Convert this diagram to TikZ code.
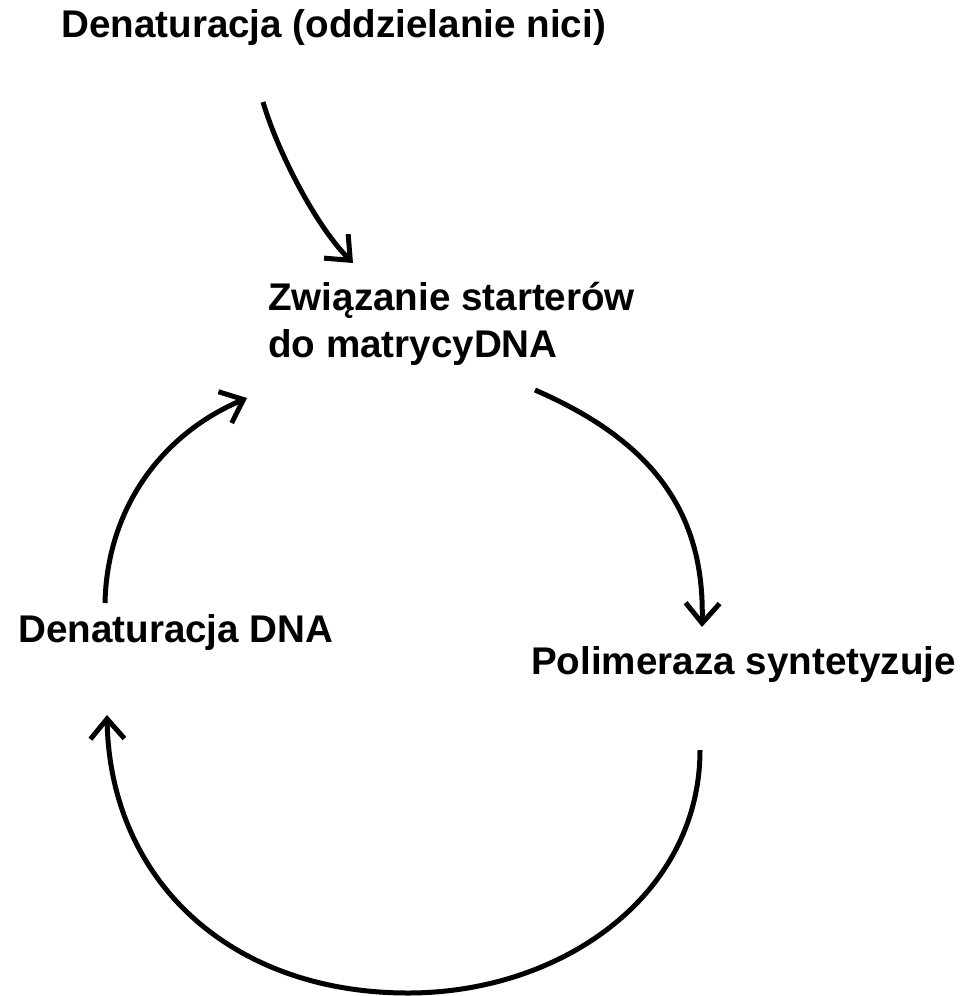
\documentclass[tikz,border=0pt]{standalone}
\usepackage{fontspec}
\setmainfont{Liberation Sans}
\usetikzlibrary{arrows.meta}

\begin{document}
\begin{tikzpicture}[x=1pt,y=-1pt,
    etykieta/.style={anchor=base west,inner sep=0pt,align=left,
      font=\bfseries\fontsize{38.6}{47}\selectfont},
    strzalka/.style={line width=5pt,-{Straight Barb[length=20pt,width=34pt]}}]
  \useasboundingbox (0,0) rectangle (968,996);

  % Etapy
  \node[etykieta] (denaturacja) at (61,37) {Denaturacja (oddzielanie nici)};
  \node[etykieta] (zwiazanie) at (268,357) {Związanie starterów\\do matrycyDNA};
  \node[etykieta] (denDNA) at (18,642) {Denaturacja DNA};
  \node[etykieta] (polimeraza) at (531,674) {Polimeraza syntetyzuje};

  % Konce strzalek
  \coordinate (den-out) at (263,102);
  \coordinate (zw-in) at (353,263);
  \coordinate (zw-out) at (535,390);
  \coordinate (zw-in2) at (247,398);
  \coordinate (pol-in) at (702,627);
  \coordinate (pol-out) at (700,750);
  \coordinate (dol) at (408,993);
  \coordinate (dna-in) at (107,715);
  \coordinate (dna-out) at (105,603);

  % Strzalki
  \draw[strzalka] (den-out) .. controls (277,150) and (315,225) .. (zw-in);
  \draw[strzalka] (zw-out) .. controls (650,440) and (705,510) .. (pol-in);
  \draw[strzalka] (pol-out) .. controls (700,895) and (562,993) .. (dol)
    .. controls (230,993) and (110,880) .. (dna-in);
  \draw[strzalka] (dna-out) .. controls (107,510) and (160,435) .. (zw-in2);
\end{tikzpicture}
\end{document}
